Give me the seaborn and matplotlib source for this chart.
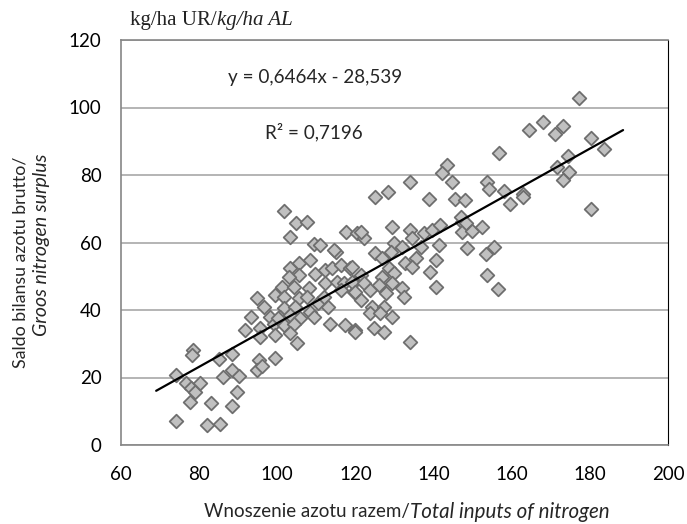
import numpy as np
import pandas as pd
import seaborn as sns
import matplotlib
matplotlib.use('Agg')
from matplotlib import pyplot as plt

# dane: wnoszenie azotu (x) i saldo bilansu (y), kg/ha
inputs_n = [74.0, 74.1, 76.7, 78.0, 79.0, 80.3, 77.7, 78.5, 78.2, 82.0, 83.0, 85.4, 85.2,
            86.2, 88.4, 88.4, 88.5, 90.1, 89.8, 95.4, 94.8, 96.2, 99.3,
            101.6, 104.9, 107.6, 103.3, 109.5, 111.0, 114.9, 117.7, 120.4, 103.3, 105.5,
            108.5, 105.5, 109.7, 112.3, 114.0, 116.2, 118.7, 112.3, 115.3, 117.0, 119.6,
            116.2, 119.6, 101.2, 104.2, 108.0, 99.5, 101.6, 94.8, 96.5, 105.5, 107.6,
            101.6, 104.6, 108.5, 93.3, 98.2, 100.8, 103.3, 105.9, 109.3, 91.8, 95.6,
            99.1, 101.6, 104.2, 95.6, 99.5, 103.3, 113.6, 117.4, 120.0, 105.0, 114.5,
            102.9, 100.3, 110.5, 112.0, 113.0,
            143.5, 142.2, 144.8, 133.9, 124.9, 128.4, 138.8, 145.6, 148.0, 129.4, 133.9,
            137.5, 139.7, 141.6, 147.3, 147.3, 122.1, 121.3, 134.5, 129.8, 132.0, 136.7,
            141.4, 148.6, 125.1, 129.0, 126.8, 135.4, 140.5, 132.8, 134.5, 139.2, 119.2,
            128.6, 129.8, 121.3, 126.8, 119.2, 122.1, 126.0, 129.4, 120.0, 123.8, 127.7,
            132.0, 132.4, 140.5, 121.3, 124.3, 127.2, 123.8, 126.4, 129.4, 124.7, 127.2,
            120.0, 133.9,
            177.3, 168.1, 164.3, 173.0, 171.0, 180.4, 183.5, 156.7, 174.3, 171.7, 174.7,
            173.0, 153.8, 154.2, 157.9, 163.0, 162.9, 159.6, 146.9, 148.2, 149.9, 152.5,
            153.3, 155.5, 153.6, 156.6, 180.3]
surplus_n = [7.2, 20.7, 18.5, 17.0, 15.8, 18.3, 12.8, 28.1, 26.7, 5.9, 12.4, 6.2, 25.5,
             20.2, 26.9, 22.2, 11.7, 20.4, 15.6, 25.2, 22.2, 23.4, 25.7,
             69.4, 65.7, 66.2, 61.7, 59.5, 59.3, 57.3, 63.2, 62.7, 52.3, 53.8,
             54.8, 50.4, 50.7, 51.9, 52.3, 53.3, 52.3, 47.9, 48.4, 47.9, 48.4,
             45.9, 45.4, 46.9, 46.7, 46.4, 44.4, 43.9, 43.6, 41.0, 43.5, 43.9,
             40.5, 41.0, 39.5, 38.0, 38.0, 38.0, 38.5, 37.5, 38.0, 34.1, 34.6,
             36.0, 35.6, 36.0, 32.1, 32.6, 33.1, 36.0, 35.6, 34.1, 30.1, 57.8,
             49.9, 37.5, 42.0, 44.0, 41.0,
             83.0, 80.7, 78.0, 78.0, 73.4, 75.1, 72.8, 72.8, 72.6, 64.7, 63.7,
             62.7, 63.7, 65.2, 66.2, 63.2, 61.2, 63.2, 61.2, 59.8, 58.8, 58.8,
             59.3, 58.3, 56.8, 57.3, 55.3, 55.3, 54.8, 53.8, 52.8, 51.3, 52.8,
             52.3, 50.9, 50.4, 49.9, 48.4, 47.9, 47.4, 47.9, 45.4, 45.9, 44.9,
             46.4, 43.9, 46.9, 43.0, 41.0, 41.0, 39.0, 39.0, 38.0, 34.6, 33.6,
             33.6, 30.6,
             102.9, 95.6, 93.3, 94.5, 92.1, 90.9, 87.7, 86.6, 85.7, 82.3, 81.0,
             78.5, 77.8, 75.9, 75.3, 74.3, 73.5, 71.3, 67.7, 65.7, 63.5, 64.7,
             56.5, 58.6, 50.4, 46.1, 69.9]

# linia trendu z równania na wykresie
slope = 0.6464
intercept = -28.539
trend_x = [69.0, 188.5]

df = pd.DataFrame({'x': inputs_n, 'y': surplus_n})
trend = pd.DataFrame({'x': trend_x})
trend['y'] = slope * trend['x'] + intercept

sns.set_style('white')
plt.rcParams['font.family'] = ['Lato', 'DejaVu Sans']

W, H = 687, 524
fig = plt.figure(figsize=(6.87, 5.24), dpi=100)
ax = fig.add_axes([121 / W, 1 - 445 / H, (668 - 121) / W, (445 - 40) / H])

sns.scatterplot(data=df, x='x', y='y', marker='D', s=48, color='#C0C0C0',
                edgecolor='#6E6E6E', linewidth=1.3, ax=ax, zorder=3)
sns.lineplot(data=trend, x='x', y='y', color='black', linewidth=1.6, ax=ax, zorder=4)

ax.set_xlim(60, 200)
ax.set_ylim(0, 120)
ax.set_xticks(range(60, 201, 20))
ax.set_yticks(range(0, 121, 20))
ax.yaxis.grid(True, color='#A0A0A0', linewidth=1.1)
ax.set_axisbelow(True)
ax.set_xlabel('')
ax.set_ylabel('')
ax.tick_params(axis='both', labelsize=13.5, length=5, width=1, color='#868686',
               direction='out', labelcolor='black')
ax.tick_params(axis='x', pad=10)
ax.tick_params(axis='y', pad=9)
for s in ['left', 'bottom', 'top']:
    ax.spines[s].set_color('#868686')
    ax.spines[s].set_linewidth(1.2)
ax.spines['right'].set_color('black')
ax.spines['right'].set_linewidth(0.8)

# opisy
serif = ['Liberation Serif', 'DejaVu Serif']
fig.text(217 / W, 1 - 20 / H, 'kg/ha UR/', fontsize=15, family=serif, color='#222222',
         ha='right', va='center')
fig.text(217 / W, 1 - 20 / H, 'kg/ha AL', fontsize=15, family=serif, style='italic',
         color='#222222', ha='left', va='center')
fig.text(228 / W, 1 - 78 / H, 'y = 0,6464x - 28,539', fontsize=13.6,
         ha='left', va='center')
fig.text(265 / W, 1 - 132 / H, 'R² = 0,7196', fontsize=13.6,
         ha='left', va='center')
fig.text(410 / W, 1 - 512 / H, 'Wnoszenie azotu razem/', fontsize=13.5,
         ha='right', va='center')
fig.text(410 / W, 1 - 512 / H, 'Total inputs of nitrogen', fontsize=14.8, style='italic',
         ha='left', va='center')
fig.text(21 / W, 1 - 262 / H, 'Saldo bilansu azotu brutto/', fontsize=12.8,
         rotation=90, ha='center', va='center')
fig.text(42 / W, 1 - 245 / H, 'Groos nitrogen surplus', fontsize=14, style='italic',
         rotation=90, ha='center', va='center')

plt.savefig('out.png', dpi=100)
